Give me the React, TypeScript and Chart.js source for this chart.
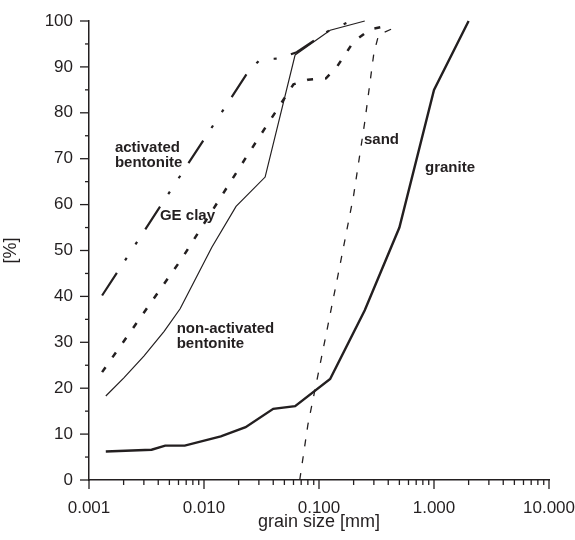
import React, { useEffect, useRef } from "react";
import { Chart, registerables } from "chart.js";

Chart.register(...registerables);

const INK = "#231f20";
const FONT = "'Liberation Sans', Arial, Helvetica, sans-serif";

// Decade tick labels of the x axis
const X_DECADES = [0.001, 0.01, 0.1, 1, 10];
const X_TICK_LABELS = ["0.001", "0.010", "0.100", "1.000", "10.000"];
const Y_TICKS = [0, 5, 10, 15, 20, 25, 30, 35, 40, 45, 50, 55, 60, 65, 70, 75, 80, 85, 90, 95, 100];

// Series (grain size [mm], passing [%])
const ACT_BENT_X = [0.0013, 0.024, 0.031, 0.045, 0.064, 0.12, 0.19];
const ACT_BENT_Y = [40.2, 88.8, 91.7, 91.8, 93.2, 97.8, 100];

const GE_CLAY_X = [0.0013, 0.0064, 0.0235, 0.06, 0.08, 0.115, 0.143, 0.2, 0.28, 0.4];
const GE_CLAY_Y = [23.5, 48.2, 70.5, 86.2, 87.2, 87.5, 90, 95.5, 98.2, 99];

const NON_ACT_X = [0.0014, 0.002, 0.003, 0.0045, 0.0062, 0.0117, 0.019, 0.034, 0.062, 0.125, 0.25];
const NON_ACT_Y = [18.3, 22.2, 27, 32.4, 37.3, 50.7, 59.6, 66, 92.6, 98, 100];

const SAND_X = [0.068, 0.08, 0.1, 0.15, 0.2, 0.25, 0.3, 0.33, 0.5];
const SAND_Y = [0, 12, 24, 46, 62, 78, 93, 97, 99];

const GRANITE_X = [0.0014, 0.0035, 0.0046, 0.0068, 0.014, 0.023, 0.04, 0.062, 0.125, 0.25, 0.5, 1, 2];
const GRANITE_Y = [6.2, 6.6, 7.5, 7.5, 9.5, 11.5, 15.5, 16.1, 22, 37, 55, 85, 100];

// In-plot labels, anchored in data coordinates (x [mm], y [%])
const LABEL_TEXTS = [["activated", "bentonite"], ["GE clay"], ["non-activated", "bentonite"], ["sand"], ["granite"]];
const LABEL_X = [0.00168, 0.00414, 0.00579, 0.246, 0.835];
const LABEL_Y = [71.5, 56.6, 32.1, 73.2, 67.2];

const pts = (xs: number[], ys: number[]) => xs.map((x, i) => ({ x, y: ys[i] }));
const isDecade = (v: number) => Math.abs(Math.log10(v) - Math.round(Math.log10(v))) < 1e-6;

const marksPlugin = {
  id: "marks",
  afterDraw(chart: any) {
    const ctx = chart.ctx;
    const xs = chart.scales.x;
    const ys = chart.scales.y;
    ctx.save();
    ctx.strokeStyle = INK;
    ctx.lineWidth = 1.3;
    ys.ticks.forEach((t: any) => {
      const py = ys.getPixelForValue(t.value);
      const len = t.value % 10 === 0 ? 9 : 4;
      ctx.beginPath();
      ctx.moveTo(ys.right - len, py);
      ctx.lineTo(ys.right, py);
      ctx.stroke();
    });
    xs.ticks.forEach((t: any) => {
      const px = xs.getPixelForValue(t.value);
      const len = isDecade(t.value) ? 9 : 5;
      ctx.beginPath();
      ctx.moveTo(px, xs.top);
      ctx.lineTo(px, xs.top + len);
      ctx.stroke();
    });
    ctx.fillStyle = INK;
    ctx.font = `bold 15px ${FONT}`;
    ctx.textAlign = "left";
    ctx.textBaseline = "alphabetic";
    LABEL_TEXTS.forEach((lines, i) => {
      const px = xs.getPixelForValue(LABEL_X[i]);
      const py = ys.getPixelForValue(LABEL_Y[i]);
      lines.forEach((ln, j) => ctx.fillText(ln, px, py + j * 15));
    });
    ctx.restore();
  },
};

const zeroPad = (scale: any) => {
  scale.paddingLeft = 0;
  scale.paddingRight = 0;
  scale.paddingTop = 0;
  scale.paddingBottom = 0;
};

export default function App() {
  const ref = useRef<HTMLCanvasElement | null>(null);
  useEffect(() => {
    if (!ref.current) return;
    const base = { pointRadius: 0, tension: 0, fill: false, borderColor: INK, borderCapStyle: "butt", clip: false };
    const chart = new Chart(ref.current, {
      type: "line",
      data: {
        datasets: [
          { ...base, label: "activated bentonite", data: pts(ACT_BENT_X, ACT_BENT_Y), borderWidth: 2.2, borderDash: [27, 15, 3, 16, 3, 15] },
          { ...base, label: "GE clay", data: pts(GE_CLAY_X, GE_CLAY_Y), borderWidth: 2.5, borderDash: [6, 12] },
          { ...base, label: "non-activated bentonite", data: pts(NON_ACT_X, NON_ACT_Y), borderWidth: 1.2 },
          { ...base, label: "sand", data: pts(SAND_X, SAND_Y), borderWidth: 1.3, borderDash: [7, 10] },
          { ...base, label: "granite", data: pts(GRANITE_X, GRANITE_Y), borderWidth: 2.4 },
        ] as any,
      },
      options: {
        animation: false,
        responsive: false,
        devicePixelRatio: 1,
        layout: { padding: { top: 21, right: 26, left: 0, bottom: 0 } },
        plugins: { legend: { display: false }, tooltip: { enabled: false } },
        scales: {
          x: {
            type: "logarithmic",
            min: 0.001,
            max: 10,
            afterBuildTicks: (scale: any) => {
              const vals: any[] = [];
              X_DECADES.forEach((d, i) => {
                if (i === X_DECADES.length - 1) {
                  vals.push({ value: d });
                } else {
                  for (let k = 1; k <= 9; k++) vals.push({ value: +(d * k).toPrecision(6) });
                }
              });
              scale.ticks = vals;
            },
            afterFit: (scale: any) => {
              scale.height = 60;
              zeroPad(scale);
            },
            grid: { display: true, drawOnChartArea: false, drawTicks: false },
            border: { display: true, color: INK, width: 1.5 },
            ticks: {
              autoSkip: false,
              maxRotation: 0,
              padding: 18,
              color: INK,
              font: { family: FONT, size: 17 },
              callback: (v: any) => {
                const idx = X_DECADES.findIndex((d) => Math.abs(d - Number(v)) / d < 1e-6);
                return idx >= 0 ? X_TICK_LABELS[idx] : "";
              },
            },
            title: { display: true, text: "grain size [mm]", color: INK, font: { family: FONT, size: 18 }, padding: { top: 0, bottom: 7 } },
          },
          y: {
            type: "linear",
            min: 0,
            max: 100,
            afterBuildTicks: (scale: any) => {
              scale.ticks = Y_TICKS.map((v) => ({ value: v }));
            },
            afterFit: (scale: any) => {
              scale.width = 89;
              zeroPad(scale);
            },
            grid: { display: true, drawOnChartArea: false, drawTicks: false },
            border: { display: true, color: INK, width: 1.5 },
            ticks: {
              autoSkip: false,
              padding: 16,
              color: INK,
              font: { family: FONT, size: 17 },
              callback: (v: any) => (Number(v) % 10 === 0 ? String(v) : ""),
            },
            title: { display: true, text: "[%]", color: INK, font: { family: FONT, size: 18 }, padding: { top: 0, bottom: 0 } },
          },
        },
      } as any,
      plugins: [marksPlugin],
    });
    return () => chart.destroy();
  }, []);
  return (
    <div style={{ position: "fixed", left: 0, top: 0, width: 575, height: 540, background: "#fff" }}>
      <canvas ref={ref} width={575} height={540} />
    </div>
  );
}
